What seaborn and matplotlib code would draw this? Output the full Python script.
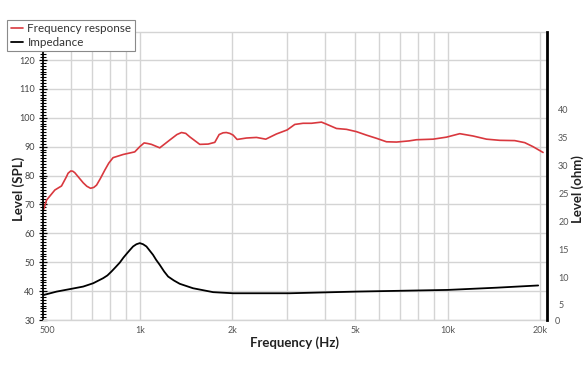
import matplotlib
matplotlib.use("Agg")

import numpy as np
import pandas as pd
import matplotlib.pyplot as plt
import seaborn as sns
from matplotlib.ticker import MultipleLocator, NullFormatter

# ===============================
# data
# ===============================
spl_freq = [488, 498, 530, 557, 578, 585, 597, 606, 615, 655, 673, 692, 709, 724, 745,
            770, 793, 819, 883, 963, 1000, 1033, 1060, 1091, 1161, 1251, 1320, 1366,
            1410, 1453, 1566, 1667, 1752, 1810, 1864, 1910, 1960, 2010, 2070,
            2221, 2393, 2565, 2778, 3010, 3186, 3390, 3610, 3890, 4037, 4352, 4690,
            5053, 5445, 5868, 6323, 6813, 7486, 7913, 8961, 9904, 10940, 12080,
            13360, 14750, 16500, 17780, 18920, 20390]
spl_db = [68.4, 71.5, 75.0, 76.4, 79.6, 80.8, 81.6, 81.5, 81.0, 77.5, 76.3, 75.6, 75.9, 76.7, 79.0,
          81.9, 84.3, 86.2, 87.3, 88.2, 90.0, 91.3, 91.1, 90.8, 89.6, 92.3, 94.2, 94.9,
          94.6, 93.4, 90.8, 90.9, 91.5, 94.2, 94.8, 94.9, 94.6, 94.0, 92.5,
          93.0, 93.2, 92.6, 94.4, 95.8, 97.7, 98.1, 98.1, 98.5, 97.8, 96.3, 96.0,
          95.2, 94.0, 92.9, 91.7, 91.6, 92.0, 92.4, 92.6, 93.3, 94.5, 93.7,
          92.6, 92.2, 92.1, 91.4, 90.0, 88.0]

imp_freq = [488, 537, 600, 655, 706, 760, 785, 809, 835, 861, 885, 910, 930, 951, 975,
            1000, 1025, 1051, 1104, 1130, 1161, 1200, 1236, 1290, 1348, 1489, 1730, 2009,
            3068, 5053, 10000, 14400, 19660]
imp_ohm = [6.8, 7.4, 7.9, 8.3, 8.9, 9.8, 10.3, 11.0, 11.8, 12.6, 13.5, 14.3, 14.9, 15.5, 15.9,
           16.1, 15.9, 15.5, 14.0, 13.1, 12.2, 11.0, 10.1, 9.4, 8.8, 8.0, 7.3, 7.1,
           7.1, 7.4, 7.7, 8.1, 8.5]

x_tick_vals = [500, 1000, 2000, 5000, 10000, 20000]
x_tick_labels = ["500", "1k", "2k", "5k", "10k", "20k"]
x_grid_vals = [600, 700, 800, 900, 1000, 2000, 3000, 4000, 5000, 6000, 7000, 8000,
               9000, 10000, 20000]
spl_ticks = list(range(30, 121, 10))
ohm_ticks = list(range(5, 41, 5))

red = "#d9383e"
grid_c = "#d4d4d4"

# ===============================
# style
# ===============================
sns.set_theme(style="white")
plt.rcParams["font.family"] = ["Lato", "DejaVu Sans"]

fig = plt.figure(figsize=(5.88, 3.72), dpi=100)
ax = fig.add_axes([43 / 588, 1 - 320 / 372, (547 - 43) / 588, 288 / 372])
ax2 = ax.twinx()

# ===============================
# lines
# ===============================
sns.lineplot(x=spl_freq, y=spl_db, ax=ax, color=red, lw=1.2, legend=False)
sns.lineplot(x=imp_freq, y=imp_ohm, ax=ax2, color="black", lw=1.3, legend=False)

# x axis (log)
ax.set_xscale("log")
ax.set_xlim(485, 21000)
ax.xaxis.remove_overlapping_locs = False
ax.set_xticks(x_tick_vals, labels=x_tick_labels)
ax.set_xticks(x_grid_vals, minor=True)
ax.xaxis.set_minor_formatter(NullFormatter())
ax.tick_params(axis="x", which="both", length=0, pad=4, labelsize=6.5, labelcolor="#555555")

# left axis
ax.set_ylim(30, 129.7)
ax.set_yticks(spl_ticks)
ax.yaxis.set_minor_locator(MultipleLocator(1))
ax.tick_params(axis="y", which="major", direction="inout", length=6, width=0.9,
               color="black", left=True, labelsize=6.5, labelcolor="#444444", pad=3)
ax.tick_params(axis="y", which="minor", direction="inout", length=4, width=0.8,
               color="black", left=True)

# right axis
ax2.set_ylim(2.3, 54)
ax2.set_yticks(ohm_ticks)
ax2.tick_params(axis="y", length=0, pad=8, labelsize=6.5, labelcolor="#555555")
ax2.text(1.016, -0.004, "0", transform=ax2.transAxes, ha="left", va="center",
         fontsize=6.5, color="#555555")

# grid
ax.set_axisbelow(True)
ax.grid(axis="y", which="major", color=grid_c, lw=1.0)
ax.grid(axis="x", which="minor", color=grid_c, lw=1.0)
ax.grid(axis="x", which="major", visible=False)
ax2.grid(False)

# spines
for s in ["top", "bottom"]:
    ax.spines[s].set_color(grid_c)
    ax.spines[s].set_linewidth(1.0)
ax.spines["left"].set_color("black")
ax.spines["left"].set_linewidth(1.3)
ax.spines["right"].set_visible(False)
for s in ["top", "bottom", "left"]:
    ax2.spines[s].set_visible(False)
ax2.spines["right"].set_color("black")
ax2.spines["right"].set_linewidth(2.0)

# labels
ax.set_xlabel("Frequency (Hz)", fontsize=9.5, fontweight="bold", labelpad=1, color="#222222")
ax.set_ylabel("Level (SPL)", fontsize=9.5, fontweight="bold", color="#222222")
ax.yaxis.set_label_coords(-0.036, 0.456)
ax2.set_ylabel("Level (ohm)", fontsize=9.5, fontweight="bold", color="#222222")
ax2.yaxis.set_label_coords(1.048, 0.456)

# legend
leg = fig.legend([ax.lines[0], ax2.lines[0]], ["Frequency response", "Impedance"],
                 loc="upper left", bbox_to_anchor=(7 / 588, 1 - 20 / 372),
                 frameon=True, fancybox=False, edgecolor="#8a8a8a", framealpha=1,
                 fontsize=8.4, handlelength=1.1, handletextpad=0.35, borderpad=0.3,
                 labelspacing=0.2, borderaxespad=0)
leg.get_frame().set_linewidth(0.8)
for t in leg.get_texts():
    t.set_color("#333333")

fig.savefig("out.png", dpi=100)
plt.close(fig)
